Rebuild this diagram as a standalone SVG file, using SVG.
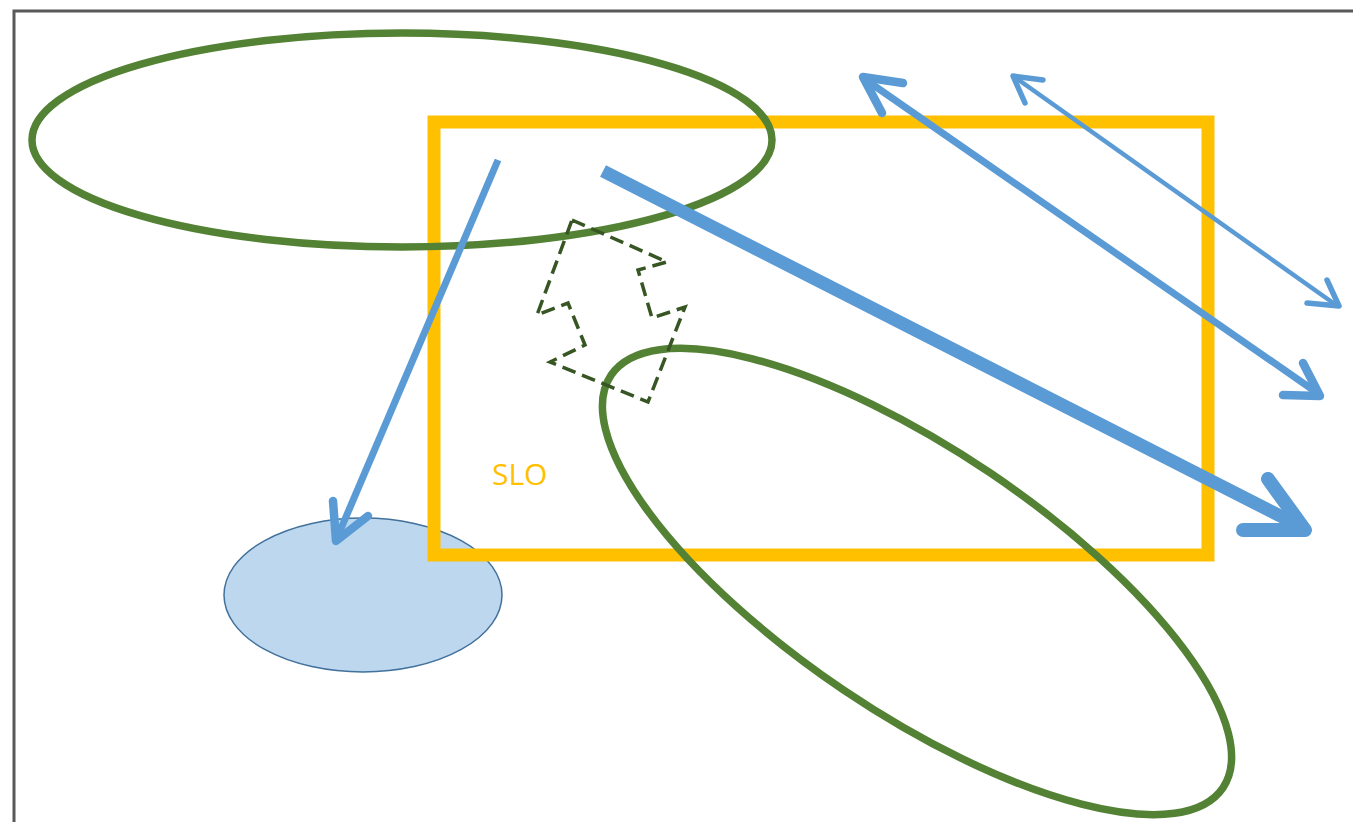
<svg xmlns="http://www.w3.org/2000/svg" width="1353" height="822" viewBox="0 0 1353 822">
  <style>
    .frame { fill: none; stroke: #595959; stroke-width: 3; }
    .green { fill: none; stroke: #548235; stroke-width: 7.5; }
    .slo { fill: none; stroke: #FFC000; stroke-width: 13; }
    .blob { fill: #BDD7EE; stroke: #41719C; stroke-width: 1.5; }
    .dash { fill: none; stroke: #375623; stroke-width: 3.5; stroke-dasharray: 14 7; stroke-linejoin: miter; }
    .shaft { fill: none; stroke: #5B9BD5; stroke-linecap: butt; }
    .head { fill: none; stroke: #5B9BD5; stroke-linecap: round; stroke-linejoin: round; }
    .lbl { font-family: "Open Sans", "Liberation Sans", sans-serif; font-size: 30px; fill: #FFC000; }
  </style>
  <rect width="1353" height="822" fill="#ffffff"/>
  <path class="frame" d="M14,822 V11 H1353"/>

  <g id="blue-ellipse">
    <ellipse class="blob" cx="363" cy="595" rx="139" ry="77"/>
  </g>
  <g id="slo-rect">
    <rect class="slo" x="434" y="122" width="774" height="433"/>
    <text class="lbl" x="492" y="485">SLO</text>
  </g>
  <g id="green-ellipse-top">
    <ellipse class="green" cx="402" cy="140" rx="370" ry="107"/>
  </g>
  <g id="green-ellipse-bottom">
    <ellipse class="green" cx="917" cy="581.5" rx="369" ry="131" transform="rotate(34 917 581.5)"/>
  </g>
  <g id="dashed-double-arrow">
    <polygon class="dash" points="572,220 667,262 638,270 652,318 685,307 648,402 550,362 585,345 568,303 537,315"/>
  </g>

  <g id="connectors">
    <g id="arrow-down">
      <path class="shaft" stroke-width="7" d="M498,160 L337,538"/>
      <path class="head" stroke-width="8.5" d="M333,501 L336,541 L368,516"/>
    </g>
    <g id="arrow-thick">
      <path class="shaft" stroke-width="13" d="M603,171 L1298,525"/>
      <path class="head" stroke-width="14" d="M1268,479 L1305,530 L1243,530"/>
    </g>
    <g id="arrow-double-1">
      <path class="shaft" stroke-width="7" d="M866,80 L1316,392"/>
      <path class="head" stroke-width="8.5" d="M903,83 L863,77 L882,113"/>
      <path class="head" stroke-width="8.5" d="M1303,363 L1320,396 L1283,395"/>
    </g>
    <g id="arrow-double-2">
      <path class="shaft" stroke-width="4.5" d="M1016,78 L1336,305"/>
      <path class="head" stroke-width="5.5" d="M1043,80 L1013,76 L1025,103"/>
      <path class="head" stroke-width="5.5" d="M1327,280 L1339,306 L1307,303"/>
    </g>
  </g>
</svg>
